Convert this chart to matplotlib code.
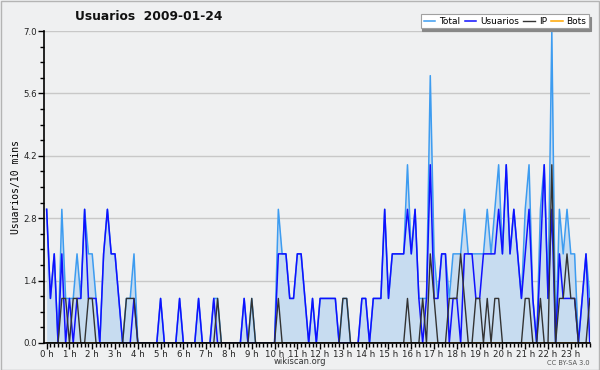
"""Usuarios por 10 minutos - wikiscan style chart."""
import matplotlib
matplotlib.use('Agg')
import matplotlib.pyplot as plt
from matplotlib.patches import Rectangle
from matplotlib.ticker import MultipleLocator

# one value every 10 minutes, 144 slots for the day
usuarios = [
    3, 1, 2, 0, 2, 0, 1, 0, 1, 1, 3, 1, 1, 1, 0, 2, 3, 2, 2, 1, 0, 0, 0, 1,
    0, 0, 0, 0, 0, 0, 1, 0, 0, 0, 0, 1, 0, 0, 0, 0, 1, 0, 0, 0, 1, 0, 0, 0,
    0, 0, 0, 0, 1, 0, 0, 0, 0, 0, 0, 0, 0, 2, 2, 2, 1, 1, 2, 2, 1, 0, 1, 0,
    1, 1, 1, 1, 1, 0, 0, 0, 0, 0, 0, 1, 1, 0, 1, 1, 1, 3, 1, 2, 2, 2, 2, 3,
    2, 3, 1, 0, 1, 4, 1, 1, 2, 2, 0, 1, 1, 0, 2, 2, 2, 1, 1, 2, 2, 2, 2, 3,
    2, 4, 2, 3, 2, 1, 2, 3, 1, 0, 2, 4, 1, 3, 0, 2, 1, 1, 1, 1, 0, 1, 2, 0,
]
ip = [
    0, 0, 0, 0, 1, 1, 0, 1, 1, 0, 0, 1, 1, 0, 0, 0, 0, 0, 0, 0, 0, 1, 1, 1,
    0, 0, 0, 0, 0, 0, 0, 0, 0, 0, 0, 0, 0, 0, 0, 0, 0, 0, 0, 0, 0, 1, 0, 0,
    0, 0, 0, 0, 0, 0, 1, 0, 0, 0, 0, 0, 0, 1, 0, 0, 0, 0, 0, 0, 0, 0, 0, 0,
    0, 0, 0, 0, 0, 0, 1, 1, 0, 0, 0, 0, 0, 0, 0, 0, 0, 0, 0, 0, 0, 0, 0, 1,
    0, 0, 0, 1, 0, 2, 1, 0, 0, 0, 1, 1, 1, 2, 1, 0, 0, 1, 1, 0, 1, 0, 1, 1,
    0, 0, 0, 0, 0, 0, 1, 1, 0, 0, 1, 0, 0, 4, 0, 1, 1, 2, 1, 1, 0, 0, 0, 1,
]
total = [
    3, 1, 2, 0, 3, 1, 1, 1, 2, 1, 3, 2, 2, 1, 0, 2, 3, 2, 2, 1, 0, 1, 1, 2,
    0, 0, 0, 0, 0, 0, 1, 0, 0, 0, 0, 1, 0, 0, 0, 0, 1, 0, 0, 0, 1, 1, 0, 0,
    0, 0, 0, 0, 1, 0, 1, 0, 0, 0, 0, 0, 0, 3, 2, 2, 1, 1, 2, 2, 1, 0, 1, 0,
    1, 1, 1, 1, 1, 0, 1, 1, 0, 0, 0, 1, 1, 0, 1, 1, 1, 3, 1, 2, 2, 2, 2, 4,
    2, 3, 1, 1, 1, 6, 2, 1, 2, 2, 1, 2, 2, 2, 3, 2, 2, 2, 2, 2, 3, 2, 3, 4,
    2, 4, 2, 3, 2, 1, 3, 4, 1, 0, 3, 4, 1, 7, 0, 3, 2, 3, 2, 2, 0, 1, 2, 1,
]
bots = [0] * 144
hour_labels = [f"{h} h" for h in range(24)]

C_TOTAL = '#3d9cf0'
C_FILL = '#c7dcf0'
C_USER = '#1010ff'
C_IP = '#333333'
C_BOTS = '#ffa500'
BG = '#eff0f1'

fig = plt.figure(figsize=(6.0, 3.7), dpi=100, facecolor=BG)
ax = fig.add_axes([0.0733, 0.073, 0.9097, 0.843])
ax.set_facecolor(BG)

x = list(range(len(total)))
ax.fill_between(x, total, 0, color=C_FILL, linewidth=0, zorder=1)
ax.plot(x, bots, color=C_BOTS, lw=1.1, zorder=2, label='Bots')
ax.plot(x, total, color=C_TOTAL, lw=1.1, zorder=3, label='Total')
ax.plot(x, usuarios, color=C_USER, lw=1.1, zorder=4, label='Usuarios')
ax.plot(x, ip, color=C_IP, lw=1.0, zorder=5, label='IP')

ax.set_xlim(-0.7, 143)
ax.set_ylim(0, 7.0)

ax.set_xticks(range(0, 144, 6))
ax.set_xticklabels(hour_labels)
ax.xaxis.set_minor_locator(MultipleLocator(1))
ax.yaxis.set_major_locator(MultipleLocator(1.4))
ax.yaxis.set_minor_locator(MultipleLocator(0.35))
ax.yaxis.set_major_formatter(matplotlib.ticker.FormatStrFormatter('%.1f'))

ax.tick_params(axis='both', which='major', labelsize=6.2, length=4, width=1,
               color='black', labelcolor='#222222', pad=1)
ax.tick_params(axis='both', which='minor', length=3, width=1, color='black')

ax.grid(True, axis='y', color='#c8c8c8', lw=1, zorder=0)
ax.set_axisbelow(True)
for side in ('top', 'right'):
    ax.spines[side].set_visible(False)
for side in ('left', 'bottom'):
    ax.spines[side].set_linewidth(1.2)
    ax.spines[side].set_zorder(6)

ax.set_ylabel('Usuarios/10 mins', family='DejaVu Sans Mono', fontsize=7, labelpad=2)

fig.text(0.125, 0.955, 'Usuarios  2009-01-24', fontsize=8.8, fontweight='bold',
         ha='left', va='center', color='#111111')
fig.text(0.5, 0.022, 'wikiscan.org', fontsize=6, ha='center', va='center',
         color='#333333')
fig.text(0.982, 0.02, 'CC BY-SA 3.0', fontsize=4.8, ha='right', va='center',
         color='#555555')

handles, labels = ax.get_legend_handles_labels()
order = [labels.index(n) for n in ('Total', 'Usuarios', 'IP', 'Bots')]
leg = fig.legend([handles[i] for i in order], [labels[i] for i in order],
                 loc='upper right', bbox_to_anchor=(0.982, 0.962), ncol=4,
                 fontsize=6.5, handlelength=1.3, handletextpad=0.4,
                 columnspacing=0.5, borderpad=0.3, borderaxespad=0,
                 fancybox=False, framealpha=1, facecolor='white',
                 edgecolor='#a0a0a0',
                 shadow={'ox': 1, 'oy': -2, 'color': '#888888', 'alpha': 1})
leg.get_frame().set_linewidth(0.8)

fig.patches.append(Rectangle((0.001, 0.001), 0.998, 0.997, transform=fig.transFigure,
                             fill=False, edgecolor='#b4b4b4', lw=1.0))

fig.savefig('out.png', dpi=100, facecolor=BG)
